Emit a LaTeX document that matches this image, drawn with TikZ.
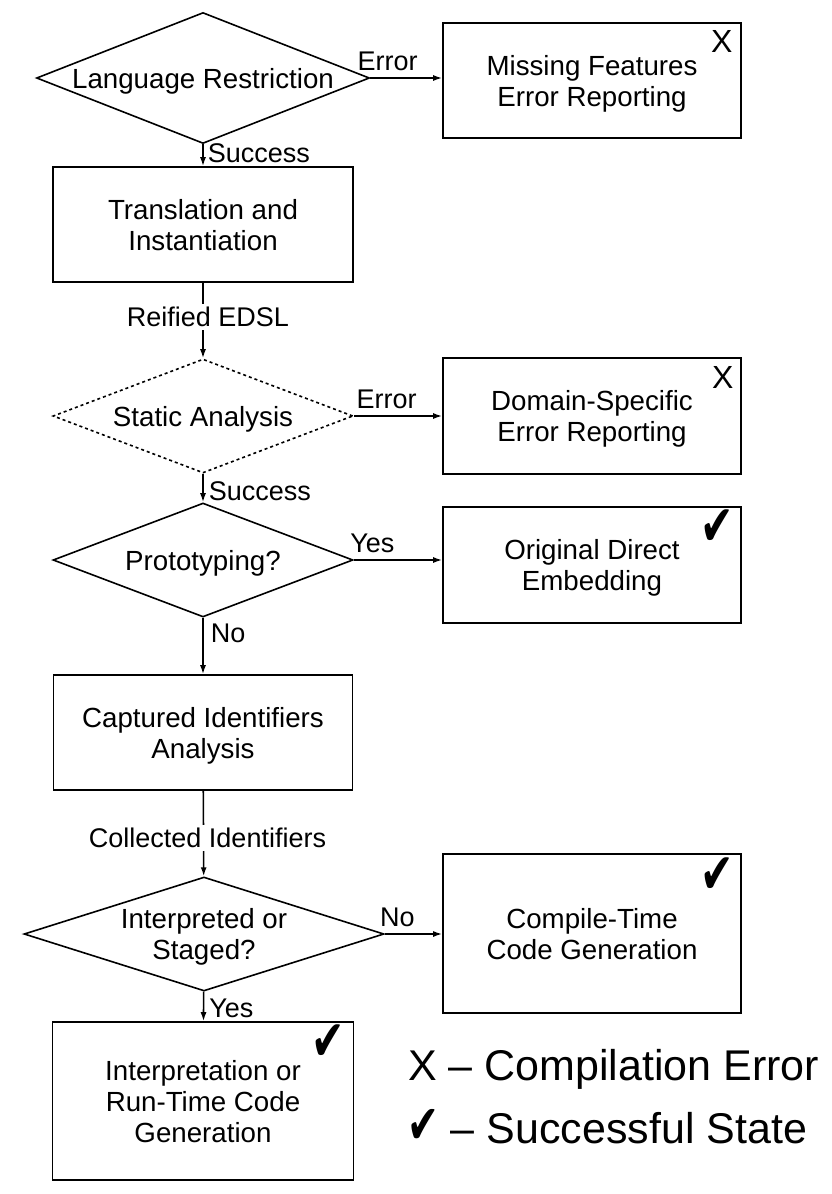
\documentclass[tikz,border=0pt]{standalone}
\usepackage{fontspec}
\setmainfont{Liberation Sans}
\newfontfamily\symfont{DejaVu Sans}
\usetikzlibrary{shapes.geometric,arrows.meta}
\newcommand\flowtext[1]{\makebox[0pt]{\raisebox{-4bp}[\height][\depth]{\begin{tabular}{@{}c@{}}#1\end{tabular}}}}
\newcommand\okglyph{\scalebox{0.95}[1.35]{✔}}
\tikzset{
  box/.style={draw, line width=1.6bp, minimum width=298bp, font=\fontsize{27.7bp}{31bp}\selectfont},
  decision/.style={draw, diamond, line width=1.6bp, inner sep=0pt, font=\fontsize{27.7bp}{31bp}\selectfont},
  flow/.style={line width=1.6bp, -{Latex[length=9bp,width=6bp]}},
  onwire/.style={fill=white, inner xsep=0pt, inner ysep=3bp},
  xmark/.style={font=\fontsize{32bp}{32bp}\selectfont},
  okmark/.style={font=\symfont\fontsize{42bp}{42bp}\selectfont}
}
\begin{document}
\begin{tikzpicture}[x=1bp, y=-1bp, font=\fontsize{27bp}{31bp}\selectfont,
    every node/.append style={inner sep=0pt}]
  \useasboundingbox (0,0) rectangle (832,1194);
  \draw
    (203,78) node[decision, minimum width=333bp, minimum height=131bp] (lang) {\flowtext{Language Restriction}}
    (592,80.5) node[box, minimum height=115bp] (mfe) {\flowtext{Missing Features\\Error Reporting}}
    (203,224.5) node[box, minimum width=300bp, minimum height=115bp] (trans) {\flowtext{Translation and\\Instantiation}}
    (203,416) node[decision, dash pattern=on 3bp off 3bp, minimum width=300bp, minimum height=114bp] (static) {\flowtext{Static Analysis}}
    (592,416) node[box, minimum height=116bp] (dse) {\flowtext{Domain-Specific\\Error Reporting}}
    (203,560) node[decision, minimum width=300bp, minimum height=114bp] (proto) {\flowtext{Prototyping?}}
    (592,565) node[box, minimum height=116bp] (ode) {\flowtext{Original Direct\\Embedding}}
    (203,732.5) node[box, minimum width=299bp, minimum height=115bp] (cia) {\flowtext{Captured Identifiers\\Analysis}}
    (204,934) node[decision, minimum width=360bp, minimum height=114bp] (interp) {\flowtext{Interpreted or\\Staged?}}
    (592,933.5) node[box, minimum height=159bp] (ctcg) {\flowtext{Compile-Time\\Code Generation}}
    (203,1101) node[box, minimum width=301bp, minimum height=158bp] (irtc) {\flowtext{Interpretation or\\Run-Time Code\\Generation}};
  \node[xmark] (mfe-x) at ([shift={(-20,19)}]mfe.north east) {X};
  \node[xmark] (dse-x) at ([shift={(-19,20)}]dse.north east) {X};
  \node[okmark] (ode-ok) at ([shift={(-25,21)}]ode.north east) {\okglyph};
  \node[okmark] (ctcg-ok) at ([shift={(-25,22)}]ctcg.north east) {\okglyph};
  \node[okmark] (irtc-ok) at ([shift={(-26,21)}]irtc.north east) {\okglyph};
  \node[anchor=base west, font=\fontsize{43bp}{43bp}\selectfont] (key-x) at (408,1080) {X – Compilation Error};
  \node[anchor=base west, font=\fontsize{43bp}{43bp}\selectfont] (key-ok) at (407,1143) {{\symfont\fontsize{40bp}{40bp}\selectfont\okglyph}~– Successful State};
  \begin{scope}[flow]
    \draw (lang.east) to node[above=6bp, pos=0.24] (err-a) {Error} (lang.east -| mfe.west);
    \draw (lang) to node[right=4bp, pos=0.42] (succ-a) {Success} (trans);
    \draw (trans) to node[onwire, pos=0.45, xshift=5bp] (reified) {Reified EDSL} (static);
    \draw (static.east) to node[above=6bp, pos=0.37] (err-b) {Error} (static.east -| dse.west);
    \draw (static) to node[right=5bp, pos=0.6] (succ-b) {Success} (proto);
    \draw (proto.east) to node[above=6bp, pos=0.21] (yes-a) {Yes} (proto.east -| ode.west);
    \draw (proto) to node[right=7bp, pos=0.28] (no-a) {No} (cia);
    \draw (cia) to node[onwire, pos=0.55, xshift=4bp] (collected) {Collected Identifiers} (interp);
    \draw (interp.east) to node[above=6bp, pos=0.22] (no-b) {No} (interp.east -| ctcg.west);
    \draw (interp) to node[right=5bp, pos=0.55] (yes-b) {Yes} (irtc);
  \end{scope}
\end{tikzpicture}
\end{document}
